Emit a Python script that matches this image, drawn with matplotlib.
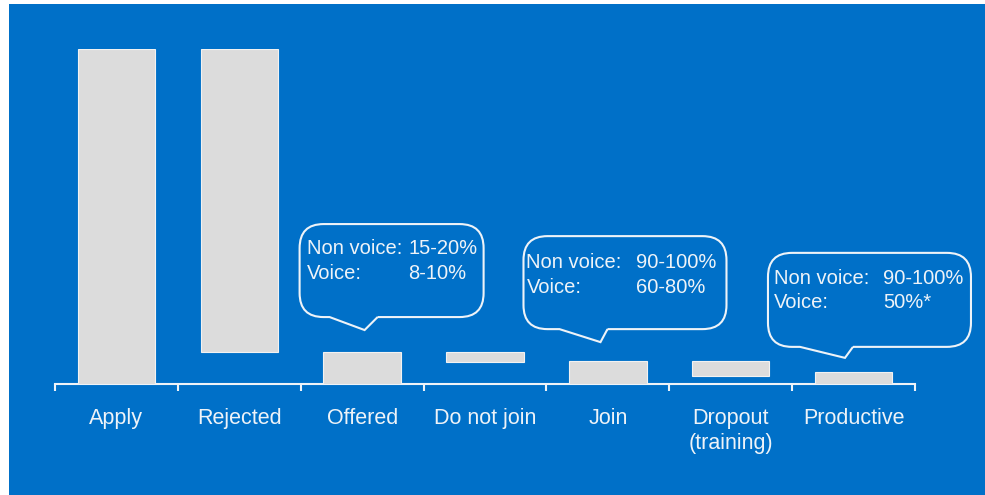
import matplotlib
matplotlib.use('Agg')
import matplotlib.pyplot as plt
import matplotlib.transforms as mtrans
from matplotlib.path import Path
from matplotlib.patches import PathPatch, Rectangle
import numpy as np

plt.rcParams['font.family'] = ['Liberation Sans', 'DejaVu Sans']

# ========= data =========
categories = ['Apply', 'Rejected', 'Offered', 'Do not join', 'Join',
              'Dropout\n(training)', 'Productive']
bar_low = [0, 9.5, 0, 6.5, 0, 2.4, 0]
bar_high = [100, 100, 9.5, 9.5, 6.9, 6.9, 3.6]

callout_labels = ['Non voice:', 'Voice:']
callout_values = [['15-20%', '8-10%'],
                  ['90-100%', '60-80%'],
                  ['90-100%', '50%*']]
# where each callout tail points (category units, value units)
callout_tips = [(2.02, 16.1), (3.94, 12.5), (5.93, 7.8)]

# ========= style =========
BLUE = '#0070C8'
BAR = '#DCDCDC'
FG = '#EEF3F8'

fig = plt.figure(figsize=(9.85, 4.95), dpi=100, facecolor='white')
fig.patches.append(Rectangle((9/985, 0), 1 - 9/985, 1 - 4/495,
                             transform=fig.transFigure, facecolor=BLUE,
                             edgecolor='none', zorder=-10))

ax = fig.add_axes([55/985, (495-384)/495, 860/985, 335/495])
ax.set_facecolor('none')

x = np.arange(len(categories))
heights = np.array(bar_high) - np.array(bar_low)
ax.bar(x, heights, bottom=bar_low, width=0.63, color=BAR,
       edgecolor='#F2F2F2', linewidth=0.8, zorder=3)

ax.set_xlim(-0.5, len(categories) - 0.5)
ax.set_ylim(0, 100)
for s in ['left', 'right', 'top']:
    ax.spines[s].set_visible(False)
ax.spines['bottom'].set_color(FG)
ax.spines['bottom'].set_linewidth(1.5)
ax.set_yticks([])

# boundary ticks + centred labels
ax.set_xticks(np.arange(-0.5, len(categories), 1))
ax.set_xticklabels([])
ax.tick_params(axis='x', which='major', length=5, width=1.5, color=FG,
               direction='out')
ax.set_xticks(x, minor=True)
ax.set_xticklabels(categories, minor=True, fontsize=15.5, color=FG,
                   linespacing=1.3)
ax.tick_params(axis='x', which='minor', length=0, pad=17)


# ========= callouts =========
def callout(tip, box_l, box_r, box_b, box_t, base_l, base_r, r=24):
    # shape given in pixel offsets from the tail tip
    trans = mtrans.Affine2D().scale(fig.dpi / 100) + \
        mtrans.ScaledTranslation(tip[0], tip[1], ax.transData)
    verts = [(base_r, box_b),
             (box_r - r, box_b), (box_r, box_b), (box_r, box_b + r),
             (box_r, box_t - r), (box_r, box_t), (box_r - r, box_t),
             (box_l + r, box_t), (box_l, box_t), (box_l, box_t - r),
             (box_l, box_b + r), (box_l, box_b), (box_l + r, box_b),
             (base_l, box_b), (0, 0), (base_r, box_b)]
    codes = [Path.MOVETO,
             Path.LINETO, Path.CURVE3, Path.CURVE3,
             Path.LINETO, Path.CURVE3, Path.CURVE3,
             Path.LINETO, Path.CURVE3, Path.CURVE3,
             Path.LINETO, Path.CURVE3, Path.CURVE3,
             Path.LINETO, Path.LINETO, Path.LINETO]
    ax.add_patch(PathPatch(Path(verts, codes), transform=trans,
                           facecolor='none', edgecolor=FG, linewidth=1.5,
                           clip_on=False, zorder=4))
    return trans


shapes = [(-65, 119, 13, 106, -35, 13),
          (-77, 126, 13, 106, -41, 7),
          (-77, 126, 11, 105, -45, 8)]
text_off = [(7, 109, 30), (3, 113, 32), (6, 115, 31)]

for tip, shp, vals, (lx, vx, top) in zip(callout_tips, shapes,
                                         callout_values, text_off):
    tr = callout(tip, *shp)
    box_l, box_t = shp[0], shp[3]
    for k in range(2):
        yy = box_t - top - k * 24.5
        ax.text(box_l + lx, yy, callout_labels[k], transform=tr,
                fontsize=14.5, color=FG, va='baseline', ha='left')
        ax.text(box_l + vx, yy, vals[k], transform=tr,
                fontsize=14.5, color=FG, va='baseline', ha='left')

fig.savefig('out.png', dpi=100, facecolor='white')
